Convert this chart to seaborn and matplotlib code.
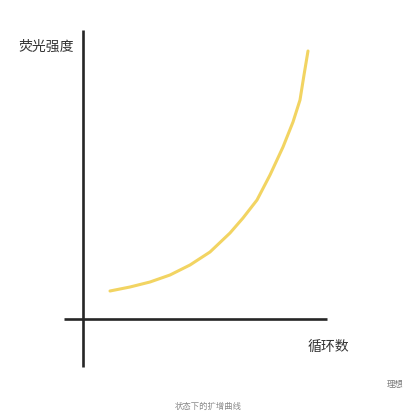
import numpy as np
import pandas as pd
import seaborn as sns
import matplotlib.pyplot as plt

sns.set_theme(style="white")
plt.rcParams['font.family'] = ['Noto Sans CJK SC', 'DejaVu Sans']

# ideal amplification curve
cycles = [27, 47, 67, 87, 107, 127, 147, 160, 174, 187, 200, 210, 217, 221, 225]
fluor = [28, 32, 37, 44, 54, 67, 86, 101, 119, 144, 172, 197, 219, 244, 268]

# hand-drawn axes extents
x_axis_span = [-19, 244]
y_axis_span = [-48, 289]

y_label = "荧光强度"
x_label = "循环数"
caption_right = "理想"
caption_bottom = "状态下的扩增曲线"

df = pd.DataFrame({"循环数": cycles, "荧光强度": fluor})

fig = plt.figure(figsize=(4.2, 4.2), dpi=100)
ax = fig.add_axes([0, 0, 1, 1])

ax.plot(x_axis_span, [0, 0], color="#262626", lw=1.9, solid_capstyle="butt")
ax.plot([0, 0], y_axis_span, color="#262626", lw=1.9, solid_capstyle="butt")

sns.lineplot(data=df, x="循环数", y="荧光强度", ax=ax, color="#F2D462", lw=2.2)

ax.set_xlim(-83, 337)
ax.set_ylim(-101, 319)
ax.axis("off")

ax.text(-9, 272, y_label, ha="right", va="center", fontsize=10, color="#333333")
ax.text(245, -28, x_label, ha="center", va="center", fontsize=10, color="#333333")
ax.text(312, -65, caption_right, ha="center", va="center", fontsize=6, color="#777777")
ax.text(125, -87, caption_bottom, ha="center", va="center", fontsize=6, color="#888888")

fig.savefig("out.png", dpi=100)
